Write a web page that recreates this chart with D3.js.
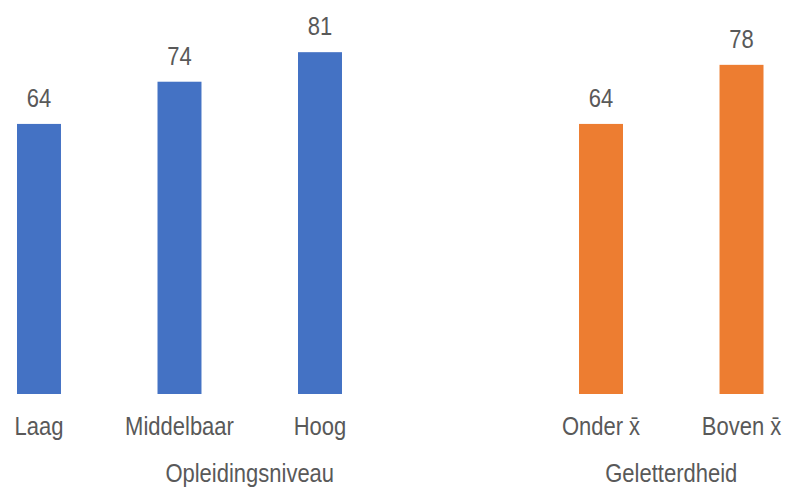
<!DOCTYPE html>
<html>
<head>
<meta charset="utf-8">
<script src="https://cdn.jsdelivr.net/npm/d3@7"></script>
<style>
  html, body { margin: 0; padding: 0; background: #fff; }
  svg text { font-family: "Liberation Sans Narrow", "Arial Narrow", "Liberation Sans", Arial, sans-serif; fill: #595959; }
</style>
</head>
<body>
<svg id="chart" width="789" height="488"></svg>
<script>
// Data
const categories = ["Laag", "Middelbaar", "Hoog", "", "Onder x\u0304", "Boven x\u0304"];
const values = [64, 74, 81, null, 64, 78];
const seriesGroup = ["opl", "opl", "opl", null, "gel", "gel"];
const groups = ["Opleidingsniveau", "Geletterdheid"];
const groupMembers = [[0, 1, 2, 3], [4, 5]];
const colors = { opl: "#4472C4", gel: "#ED7D31" };

const svg = d3.select("#chart");
const baseY = 394;
const narrow = 0.88;

const x = d3.scaleBand()
  .domain(d3.range(categories.length))
  .range([17, 763.5])
  .paddingInner(0.687)
  .paddingOuter(0);

const y = d3.scaleLinear().domain([0, 100]).range([baseY, baseY - 422]);

const data = categories.map((c, i) => ({ i, c, v: values[i], g: seriesGroup[i] }))
  .filter(d => d.v != null);

svg.selectAll("rect.bar").data(data).join("rect")
  .attr("class", "bar")
  .attr("x", d => x(d.i))
  .attr("width", x.bandwidth())
  .attr("y", d => y(d.v))
  .attr("height", d => y(0) - y(d.v))
  .attr("fill", d => colors[d.g]);

function place(sel, fx, fy) {
  sel.attr("transform", (d, i) => `translate(${fx(d, i)},${fy(d, i)}) scale(${narrow},1)`)
    .attr("text-anchor", "middle")
    .style("font-size", "25px");
}

svg.selectAll("text.val").data(data).join("text")
  .attr("class", "val")
  .call(place, d => x(d.i) + x.bandwidth() / 2, d => y(d.v) - 17)
  .text(d => d.v);

// category axis labels
svg.selectAll("text.cat").data(categories.map((c, i) => ({ c, i })).filter(d => d.c)).join("text")
  .attr("class", "cat")
  .call(place, d => x(d.i) + x.bandwidth() / 2, () => 435)
  .text(d => d.c);

// group labels
svg.selectAll("text.grp").data(groups).join("text")
  .attr("class", "grp")
  .call(place, (g, k) => d3.mean(groupMembers[k], i => x(i) + x.bandwidth() / 2), () => 482)
  .text(g => g);
</script>
</body>
</html>
